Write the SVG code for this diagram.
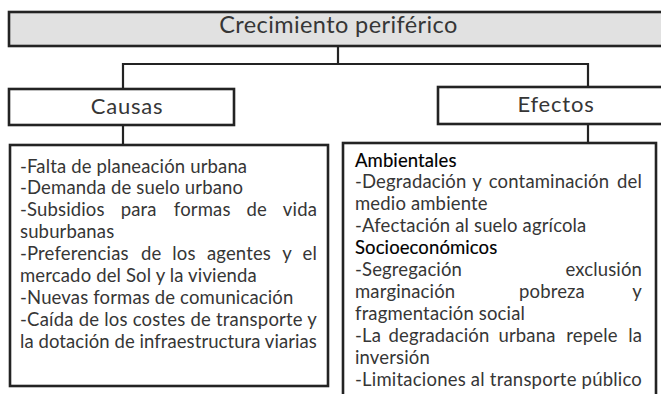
<svg xmlns="http://www.w3.org/2000/svg" width="661" height="394" viewBox="0 0 661 394">
<style>
.box{fill:#fff;stroke:#232323;stroke-width:2.6}
.top{fill:#e1e1e1;stroke:#232323;stroke-width:2.6}
.conn{fill:none;stroke:#232323;stroke-width:2.2}
text{font-family:Lato,"Open Sans","Liberation Sans",sans-serif;fill:#363636}
.title{font-size:23.5px;letter-spacing:0.4px;text-anchor:middle}
.head{font-size:22px;letter-spacing:0.8px;text-anchor:middle}
.body{font-size:18.5px;letter-spacing:0.15px}
.hdr{font-size:18.5px;letter-spacing:0.1px;fill:#000;stroke:#000;stroke-width:0.15}
.m{text-anchor:middle}
.e{text-anchor:end}
</style>
<rect width="661" height="394" fill="#fff"/>
<g id="connectors">
<path class="conn" d="M338,46 V64 M123,64 H588 M123,63 V89 M588,63 V87 M123,125 V145 M588,124 V143"/>
</g>
<g id="node-crecimiento">
<rect class="top" x="9" y="12" width="670" height="34"/>
<text class="title" x="338.5" y="33">Crecimiento periférico</text>
</g>
<g id="node-causas">
<rect class="box" x="9" y="89" width="225" height="36"/>
<text class="head" x="127" y="113.5">Causas</text>
</g>
<g id="node-efectos">
<rect class="box" x="438" y="87" width="240" height="37"/>
<text class="head" x="556" y="111.5">Efectos</text>
</g>
<g id="node-causas-lista">
<rect class="box" x="10" y="145" width="318" height="241" stroke-width="3"/>
<text class="body" x="20" y="172.5">-Falta de planeación urbana</text>
<text class="body" x="20" y="194.4">-Demanda de suelo urbano</text>
<text class="body" y="216.3"><tspan x="20">-Subsidios</tspan><tspan class="m" x="138.7">para</tspan><tspan class="m" x="202.2">formas</tspan><tspan class="m" x="256.7">de</tspan><tspan class="e" x="317">vida</tspan></text>
<text class="body" x="20" y="238.2">suburbanas</text>
<text class="body" y="260.1"><tspan x="20">-Preferencias</tspan><tspan class="m" x="151.2">de</tspan><tspan class="m" x="184">los</tspan><tspan class="m" x="239">agentes</tspan><tspan class="m" x="287">y</tspan><tspan class="e" x="317">el</tspan></text>
<text class="body" x="20" y="282">mercado del Sol y la vivienda</text>
<text class="body" x="20" y="303.9">-Nuevas formas de comunicación</text>
<text class="body" x="20" y="325.8" textLength="297" lengthAdjust="spacing">-Caída de los costes de transporte y</text>
<text class="body" x="20" y="347.7" textLength="297" lengthAdjust="spacing">la dotación de infraestructura viarias</text>
</g>
<g id="node-efectos-lista">
<rect class="box" x="343" y="143" width="313" height="270" stroke-width="3"/>
<text class="hdr" x="355" y="166.5">Ambientales</text>
<text class="body" y="188.4"><tspan x="355">-Degradación</tspan><tspan class="m" x="477">y</tspan><tspan class="m" x="549">contaminación</tspan><tspan class="e" x="642">del</tspan></text>
<text class="body" x="355" y="210.3">medio ambiente</text>
<text class="body" x="355" y="232.2">-Afectación al suelo agrícola</text>
<text class="hdr" x="355" y="254.1">Socioeconómicos</text>
<text class="body" y="276"><tspan x="355">-Segregación</tspan><tspan class="e" x="642">exclusión</tspan></text>
<text class="body" y="297.9"><tspan x="355">marginación</tspan><tspan class="m" x="552">pobreza</tspan><tspan class="e" x="642">y</tspan></text>
<text class="body" x="355" y="319.8">fragmentación social</text>
<text class="body" y="341.7"><tspan x="355">-La</tspan><tspan class="m" x="439">degradación</tspan><tspan class="m" x="527">urbana</tspan><tspan class="m" x="592">repele</tspan><tspan class="e" x="642">la</tspan></text>
<text class="body" x="355" y="363.6">inversión</text>
<text class="body" x="355" y="385.5" textLength="287" lengthAdjust="spacing">-Limitaciones al transporte público</text>
</g>
</svg>
